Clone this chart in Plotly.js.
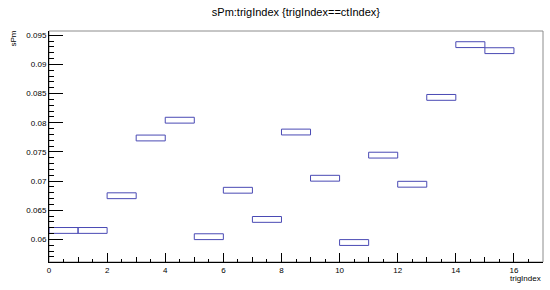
<!DOCTYPE html>
<html>
<head>
<meta charset="utf-8">
<script src="https://cdn.plot.ly/plotly-3.0.1.min.js"></script>
<style>
  html, body { margin: 0; padding: 0; background: #ffffff; }
  #chart { width: 550px; height: 290px; }
</style>
</head>
<body>
<div id="chart"></div>
<script>
// Profile of sPm vs trigIndex, one box per bin (bin low edge = trigIndex)
const trigIndex = [0, 1, 2, 3, 4, 5, 6, 7, 8, 9, 10, 11, 12, 13, 14, 15];
const sPm = [0.06155, 0.06155, 0.0675, 0.0774, 0.08045, 0.06048, 0.06844, 0.06344,
             0.07842, 0.0705, 0.05948, 0.07446, 0.06947, 0.08436, 0.0934, 0.09237];
const yTickVals = [0.06, 0.065, 0.07, 0.075, 0.08, 0.085, 0.09, 0.095];
const yTickText = ['0.06', '0.065', '0.07', '0.075', '0.08', '0.085', '0.09', '0.095'];
const xTickVals = [0, 2, 4, 6, 8, 10, 12, 14, 16];

const boxHeight = 0.001;
const lineBlue = '#4a4ab4';
const font = 'Liberation Sans, Arial, sans-serif';

Plotly.newPlot('chart', [
  {
    type: 'bar',
    x: trigIndex.map(v => v + 0.5),
    y: sPm.map(() => boxHeight),
    base: sPm.map(v => v - boxHeight / 2),
    width: 1,
    marker: { color: 'rgba(0,0,0,0)', line: { color: lineBlue, width: 1 } },
    hoverinfo: 'skip',
  },
  // dummy trace to carry the medium x ticks at each integer
  { type: 'scatter', x: [0], y: [0.06], xaxis: 'x2', mode: 'none', hoverinfo: 'skip' },
], {
  width: 550,
  height: 290,
  showlegend: false,
  bargap: 0,
  paper_bgcolor: '#ffffff',
  plot_bgcolor: '#ffffff',
  margin: { l: 49, r: 7, t: 31, b: 28 },
  font: { family: font, size: 8, color: '#000000' },
  title: {
    text: 'sPm:trigIndex {trigIndex==ctIndex}',
    font: { family: font, size: 11, color: '#000000' },
    x: 0.538, xanchor: 'center', y: 0.958, yanchor: 'middle',
  },
  xaxis: {
    range: [0, 17],
    tickvals: xTickVals,
    ticks: 'inside', ticklen: 9, tickwidth: 1, tickcolor: '#000000',
    minor: { dtick: 0.5, tick0: 0, ticks: 'inside', ticklen: 3, tickcolor: '#000000' },
    showline: true, linecolor: '#000000', linewidth: 1,
    showgrid: false, zeroline: false,
    tickfont: { family: font, size: 8 },
    title: { text: '' },
  },
  xaxis2: {
    overlaying: 'x', anchor: 'y', side: 'bottom',
    range: [0, 17], dtick: 1, tick0: 0,
    ticks: 'inside', ticklen: 5, tickcolor: '#000000',
    showticklabels: false, showgrid: false, zeroline: false, showline: false,
  },
  yaxis: {
    range: [0.05614, 0.09574],
    tickvals: yTickVals, ticktext: yTickText,
    ticks: 'inside', ticklen: 14, tickwidth: 1, tickcolor: '#000000',
    minor: { dtick: 0.001, tick0: 0.06, ticks: 'inside', ticklen: 5, tickcolor: '#000000' },
    showline: true, linecolor: '#000000', linewidth: 1,
    showgrid: false, zeroline: false,
    tickfont: { family: font, size: 8 },
    title: { text: '' },
  },
  shapes: [
    { type: 'rect', xref: 'paper', yref: 'paper', x0: 0, x1: 1, y0: 0, y1: 1,
      line: { color: '#8c8c8c', width: 1 }, layer: 'below' },
  ],
  annotations: [
    { text: 'trigIndex', xref: 'paper', yref: 'paper', x: 1, y: 0, xanchor: 'right', yanchor: 'top',
      yshift: -10, showarrow: false, font: { family: font, size: 8 } },
    { text: 'sPm', xref: 'paper', yref: 'paper', x: 0, y: 1, xanchor: 'right', yanchor: 'top',
      xshift: -30, yshift: 2, textangle: -90, showarrow: false, font: { family: font, size: 8 } },
  ],
}, { staticPlot: true });
</script>
</body>
</html>
